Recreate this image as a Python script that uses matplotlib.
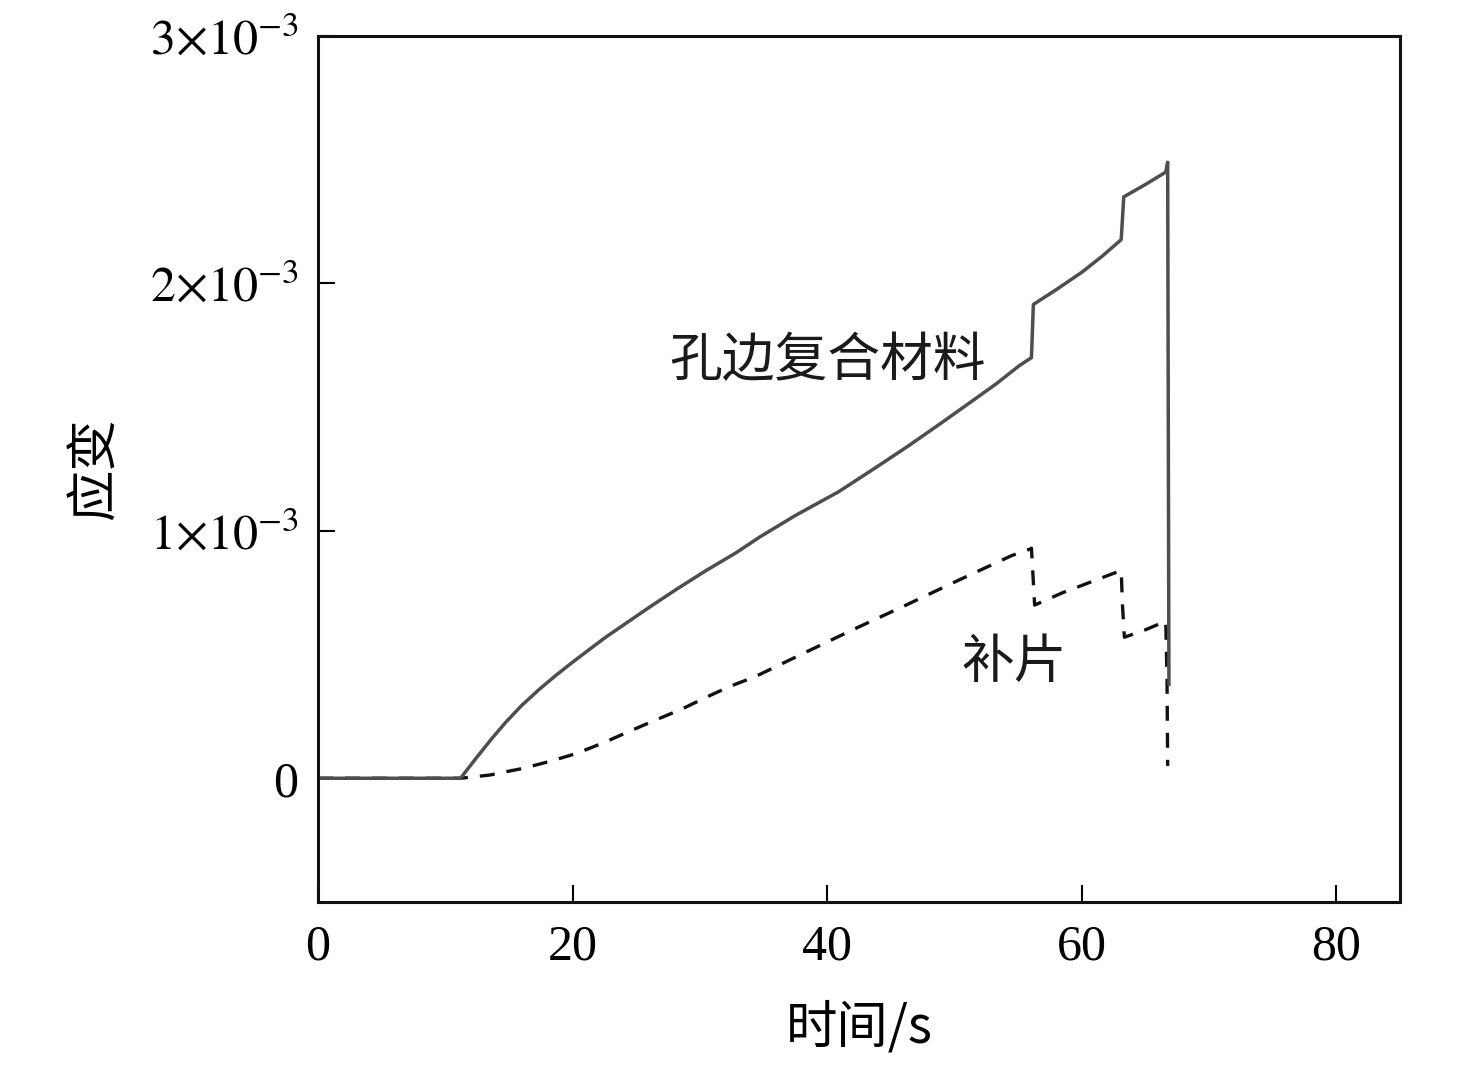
import matplotlib
matplotlib.use("Agg")
import matplotlib.pyplot as plt
import numpy as np

# Data (time in s, strain in units of 1e-3)
hole_t = [0, 11.2, 12.5, 13.7, 14.8, 16.0, 17.4, 18.6, 19.8, 21.2, 22.6, 24.3, 26.0,
          28.2, 30.5, 32.8, 34.7, 37.5, 40.9, 43.5, 46.2, 48.8, 51.4, 53.3, 55.1, 56.05,
          56.2, 58.0, 60.0, 61.6, 63.1, 63.3, 65.0, 66.6, 66.75, 66.85]
hole_v = [0, 0, 0.086, 0.163, 0.229, 0.294, 0.36, 0.412, 0.461, 0.516, 0.57, 0.63, 0.69,
          0.765, 0.84, 0.91, 0.975, 1.062, 1.158, 1.245, 1.337, 1.43, 1.525, 1.595, 1.668, 1.70,
          1.915, 1.975, 2.045, 2.11, 2.177, 2.35, 2.40, 2.45, 2.49, 0.38]
patch_t = [0, 11.2, 13.5, 16.1, 18.2, 20.3, 22.5, 24.7, 26.6, 28.6, 30.4, 32.3, 34.4,
           38.1, 42.0, 46.2, 50.3, 54.5, 55.97, 56.05, 56.3,
           58.5, 60.8, 63.1, 63.2, 63.35, 65.0, 66.6, 66.7, 66.75]
patch_v = [0, 0, 0.013, 0.04, 0.068, 0.10, 0.145, 0.195, 0.237, 0.28, 0.325, 0.37, 0.412,
           0.504, 0.60, 0.70, 0.80, 0.90, 0.927, 0.93, 0.70,
           0.75, 0.795, 0.84, 0.70, 0.57, 0.60, 0.635, 0.40, 0.05]

xticks = [0, 20, 40, 60, 80]
yticks = [0, 1, 2, 3]
ytick_labels = ['0', r'$1{\times}10^{-3}$', r'$2{\times}10^{-3}$', r'$3{\times}10^{-3}$']

plt.rcParams['font.family'] = ['Liberation Serif', 'Noto Sans CJK SC']
plt.rcParams['mathtext.fontset'] = 'stix'

fig = plt.figure(figsize=(14.76, 10.73), dpi=100)
ax = fig.add_axes([0.2154, 0.1594, 0.9485 - 0.2154, 0.9664 - 0.1594])

ax.plot(patch_t, patch_v, color='#111111', lw=2.4, ls=(0, (4.5, 3.6)))
ax.plot(hole_t, hole_v, color='#4d4d52', lw=2.5)

ax.set_xlim(0, 85)
ax.set_ylim(-0.5, 3)
ax.set_xticks(xticks)
ax.set_yticks(yticks)
ax.set_yticklabels(ytick_labels)
ax.tick_params(axis='both', direction='in', length=12, width=1.5, labelsize=36,
               top=False, right=False)
ax.tick_params(axis='x', pad=16)
ax.tick_params(axis='y', pad=14)
for s in ax.spines.values():
    s.set_linewidth(2.2)
    s.set_color('#111111')

cjk = ['Noto Sans CJK SC']
ax.set_xlabel('时间/s', fontsize=37, family=['Noto Sans CJK SC', 'Liberation Serif'], labelpad=22)
ax.set_ylabel('应变', fontsize=37, family=cjk, labelpad=20)

ax.text(40.0, 1.69, '孔边复合材料', fontsize=38, family=cjk, ha='center', va='center', color='#1a1a1a')
ax.text(54.7, 0.47, '补片', fontsize=38, family=cjk, ha='center', va='center', color='#1a1a1a')

fig.savefig('out.png', dpi=100)
